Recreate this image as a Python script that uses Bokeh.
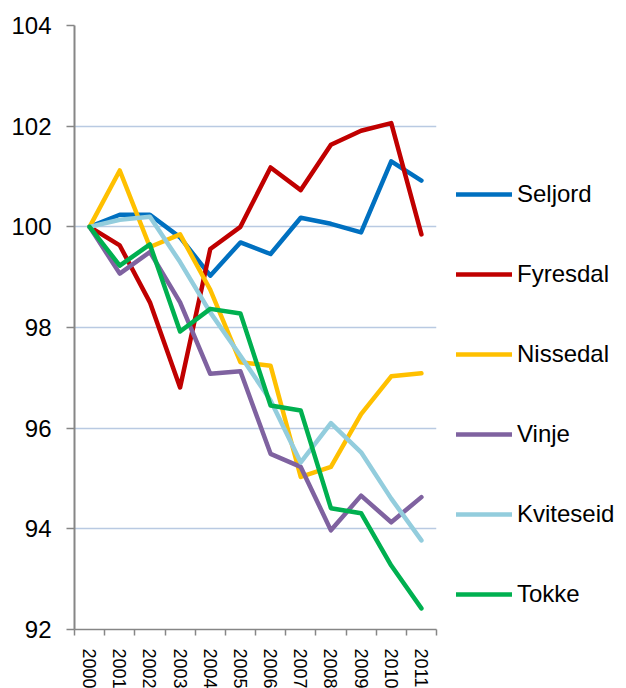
import numpy as np
from bokeh.plotting import figure
from bokeh.models import Range1d, FixedTicker, Legend, LegendItem
from bokeh.embed import file_html
from bokeh.resources import INLINE

years = ["2000", "2001", "2002", "2003", "2004", "2005",
         "2006", "2007", "2008", "2009", "2010", "2011"]

seljord   = [100.0, 100.24, 100.24, 99.79, 99.03, 99.69, 99.46, 100.18, 100.06, 99.89, 101.30, 100.92]
fyresdal  = [100.0, 99.63, 98.50, 96.81, 99.56, 100.00, 101.18, 100.73, 101.63, 101.91, 102.06, 99.85]
nissedal  = [100.0, 101.12, 99.60, 99.85, 98.75, 97.31, 97.24, 95.03, 95.23, 96.28, 97.03, 97.09]
vinje     = [100.0, 99.07, 99.50, 98.50, 97.08, 97.13, 95.49, 95.23, 93.97, 94.66, 94.13, 94.63]
kviteseid = [100.0, 100.14, 100.20, 99.30, 98.30, 97.44, 96.55, 95.32, 96.10, 95.52, 94.60, 93.77]
tokke     = [100.0, 99.23, 99.65, 97.92, 98.37, 98.28, 96.45, 96.35, 94.41, 94.31, 93.27, 92.42]

series_names = ["Seljord", "Fyresdal", "Nissedal", "Vinje", "Kviteseid", "Tokke"]
series_vals = [seljord, fyresdal, nissedal, vinje, kviteseid, tokke]
colors = ["#0070C0", "#C00000", "#FFC000", "#7F62A0", "#93CDDD", "#00B050"]

y_ticks = [92, 94, 96, 98, 100, 102, 104]

FONT = "Liberation Sans"

n = len(years)
centers = [i + 0.5 for i in range(n)]
bounds = [float(i) for i in range(n + 1)]

p = figure(frame_width=362, frame_height=604, output_backend="svg", toolbar_location=None,
           x_range=Range1d(0, n), y_range=Range1d(y_ticks[0], y_ticks[-1]),
           min_border_left=74, min_border_top=25, min_border_right=180,
           min_border_bottom=59)
p.outline_line_color = None
p.background_fill_color = "white"
p.border_fill_color = "white"

renderers = []
for name, vals, c in zip(series_names, series_vals, colors):
    r = p.line(centers, vals, line_color=c, line_width=4.5,
               line_join="round", line_cap="round")
    renderers.append((name, r))

# axes
xa = p.xaxis[0]
xa.ticker = FixedTicker(ticks=centers, minor_ticks=bounds)
xa.major_label_overrides = {c: y for c, y in zip(centers, years)}
xa.major_label_orientation = -np.pi / 2
xa.major_tick_out = 0
xa.major_tick_in = 0
xa.minor_tick_out = 6
xa.minor_tick_in = 0
xa.minor_tick_line_color = "#868686"
xa.minor_tick_line_width = 1.5
xa.axis_line_color = "#868686"
xa.axis_line_width = 1.5
xa.major_label_standoff = 13
xa.major_label_text_font = FONT
xa.major_label_text_font_size = "18px"
xa.major_label_text_color = "black"

ya = p.yaxis[0]
ya.ticker = FixedTicker(ticks=y_ticks)
ya.major_tick_out = 8
ya.major_tick_in = 0
ya.minor_tick_line_color = None
ya.major_tick_line_color = "#868686"
ya.major_tick_line_width = 1.5
ya.axis_line_color = "#868686"
ya.axis_line_width = 2
ya.major_label_standoff = 15
ya.major_label_text_font = FONT
ya.major_label_text_font_size = "24px"
ya.major_label_text_color = "black"

p.xgrid.grid_line_color = None
p.ygrid.grid_line_color = "#B9CAE2"
p.ygrid.grid_line_width = 1.5

legend = Legend(items=[LegendItem(label=nm, renderers=[r]) for nm, r in renderers],
                location=(20, 21), orientation="vertical",
                glyph_width=56, glyph_height=24, label_height=24,
                label_standoff=5, spacing=52, padding=0, margin=0,
                border_line_color=None, background_fill_alpha=0,
                label_text_font=FONT, label_text_font_size="24px",
                label_text_color="black")
p.add_layout(legend, "right")

open("out.html", "w").write(file_html(p, INLINE))
